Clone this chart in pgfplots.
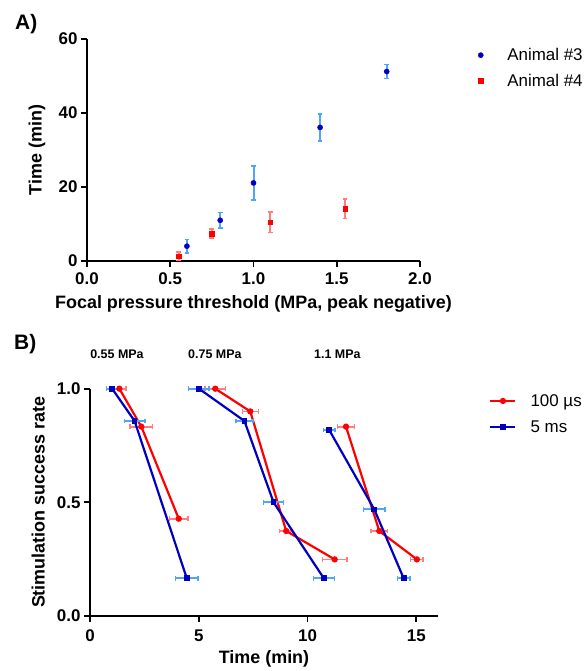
\documentclass[border=0pt]{standalone}
\usepackage{pgfplots}
\pgfplotsset{compat=1.18}
\usepackage{fontspec}
\setmainfont{Liberation Sans}
\definecolor{dkblue}{RGB}{0,0,190}
\definecolor{ltblue}{RGB}{80,165,250}
\definecolor{myred}{RGB}{255,0,0}
\definecolor{ltred}{RGB}{255,125,125}

\pgfplotsset{
  prism/.style={
    scale only axis,
    axis lines*=left,
    axis line style={line width=2pt},
    tick align=outside,
    major tick length=6bp,
    tick style={line width=1.8pt, black},
    xtick pos=bottom, ytick pos=left,
    /pgf/number format/assume math mode=true,
    ticklabel style={font=\fontsize{17}{19}\selectfont\bfseries},
    label style={font=\fontsize{18}{20}\selectfont\bfseries},
    clip=false,
  },
  ybars/.style={error bars/.cd, y dir=both, y explicit, error mark=|,
    error bar style={line width=2pt, color=#1},
    error mark options={mark size=2.4pt, line width=1.6pt, color=#1}},
  xbars/.style={error bars/.cd, x dir=both, x explicit, error mark=|,
    error bar style={line width=1.8pt, color=#1},
    error mark options={mark size=2.4pt, line width=1.5pt, color=#1}},
}

\begin{document}
\begin{tikzpicture}[x=1bp,y=1bp]
\useasboundingbox (0,0) rectangle (588,671);

\node[anchor=base west, inner sep=0pt, font=\fontsize{21}{24}\selectfont\bfseries] at (15,641) {A)};
\node[anchor=base west, inner sep=0pt, font=\fontsize{21}{24}\selectfont\bfseries] at (14,321) {B)};

% panel A
\begin{axis}[prism,
  at={(87bp,410bp)}, anchor=origin,
  width=333bp, height=222bp,
  xmin=0, xmax=2, ymin=0, ymax=60,
  xtick={0,0.5,1,1.5,2}, ytick={0,20,40,60},
  xticklabel style={/pgf/number format/fixed,/pgf/number format/fixed zerofill,/pgf/number format/precision=1, yshift=-2bp},
  xlabel={Focal pressure threshold (MPa, peak negative)},
  ylabel={Time (min)},
  xlabel style={at={(axis description cs:0.5,-0.194)}, anchor=center},
  ylabel style={at={(axis description cs:-0.150,0.5)}, anchor=center},
  legend style={draw=none, at={(axis description cs:1.174,0.968)}, anchor=north west,
    font=\fontsize{17}{19}\selectfont, row sep=8bp, column sep=22bp, inner sep=0pt},
  legend image code/.code={\draw[#1] plot coordinates {(0bp,0bp)};},
  legend cell align=left,
]
\addplot[only marks, mark=*, mark size=2.6pt, color=dkblue, ybars=ltblue]
  coordinates {(0.6,4.0) +- (0,1.8) (0.8,11.0) +- (0,2.1) (1.0,21.1) +- (0,4.6)
               (1.4,36.1) +- (0,3.6) (1.8,51.2) +- (0,1.9)};
\addlegendentry{Animal \#3}
\addplot[only marks, mark=square*, mark size=2.3pt, color=myred, ybars=ltred]
  coordinates {(0.55,1.3) +- (0,1.2) (0.75,7.4) +- (0,1.2) (1.1,10.5) +- (0,2.8)
               (1.55,14.1) +- (0,2.6)};
\addlegendentry{Animal \#4}
\end{axis}

% panel B
\begin{axis}[prism,
  at={(90bp,55bp)}, anchor=origin,
  width=348bp, height=227.3bp,
  xmin=0, xmax=16, ymin=0, ymax=1,
  xtick={0,5,10,15}, ytick={0,0.5,1},
  xticklabel style={yshift=-4bp},
  yticklabel style={/pgf/number format/fixed,/pgf/number format/fixed zerofill,/pgf/number format/precision=1},
  xlabel={Time (min)},
  ylabel={Stimulation success rate},
  xlabel style={at={(axis description cs:0.5,-0.189)}, anchor=center},
  ylabel style={at={(axis description cs:-0.149,0.5)}, anchor=center},
  legend style={draw=none, at={(axis description cs:1.147,0.985)}, anchor=north west,
    font=\fontsize{17}{19}\selectfont, row sep=9bp, column sep=12bp, inner sep=0pt},
  legend image code/.code={\draw[#1, mark repeat=2, mark phase=2] plot coordinates {(0bp,0bp) (12.5bp,0bp) (25bp,0bp)};},
  legend cell align=left,
]
\node[font=\fontsize{12.5}{14}\selectfont\bfseries] at (axis cs:1.24,1.153) {0.55 MPa};
\node[font=\fontsize{12.5}{14}\selectfont\bfseries] at (axis cs:5.74,1.153) {0.75 MPa};
\node[font=\fontsize{12.5}{14}\selectfont\bfseries] at (axis cs:11.37,1.153) {1.1 MPa};

\addplot[color=myred, line width=2.2pt, mark=*, mark size=2pt, xbars=ltred]
  coordinates {(1.35,1.0) +- (0.3,0) (2.36,0.833) +- (0.52,0) (4.08,0.428) +- (0.42,0)};
\addlegendentry{100 µs}
\addplot[color=dkblue, line width=2.2pt, mark=square*, mark size=1.8pt, xbars=ltblue]
  coordinates {(1.02,1.0) +- (0.27,0) (2.05,0.858) +- (0.47,0) (4.45,0.166) +- (0.52,0)};
\addlegendentry{5 ms}

\addplot[forget plot, color=myred, line width=2.2pt, mark=*, mark size=2pt, xbars=ltred]
  coordinates {(5.76,1.0) +- (0.48,0) (7.37,0.9) +- (0.37,0) (9.02,0.374) +- (0.3,0) (11.25,0.249) +- (0.57,0)};
\addplot[forget plot, color=dkblue, line width=2.2pt, mark=square*, mark size=1.8pt, xbars=ltblue]
  coordinates {(5.01,1.0) +- (0.47,0) (7.1,0.858) +- (0.39,0) (8.44,0.5) +- (0.46,0) (10.75,0.166) +- (0.48,0)};

\addplot[forget plot, color=myred, line width=2.2pt, mark=*, mark size=2pt, xbars=ltred]
  coordinates {(11.77,0.833) +- (0.4,0) (13.3,0.374) +- (0.37,0) (15.03,0.249) +- (0.29,0)};
\addplot[forget plot, color=dkblue, line width=2.2pt, mark=square*, mark size=1.8pt, xbars=ltblue]
  coordinates {(11.0,0.818) +- (0.27,0) (13.07,0.469) +- (0.5,0) (14.42,0.166) +- (0.29,0)};
\end{axis}
\end{tikzpicture}
\end{document}
